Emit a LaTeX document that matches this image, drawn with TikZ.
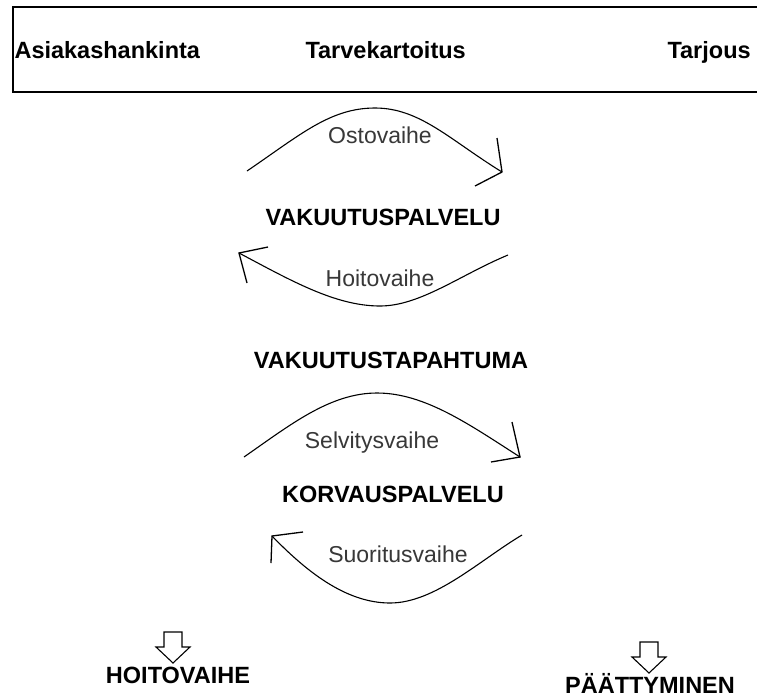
\documentclass[tikz,border=0pt]{standalone}
\usepackage{fontspec}
\setmainfont{Liberation Sans}
\begin{document}
\begin{tikzpicture}[x=1pt,y=-1pt,
  line width=1.1pt,
  titlelbl/.style={font=\fontsize{23.5}{27}\selectfont\bfseries, inner sep=0pt, anchor=base},
  toplbl/.style={titlelbl, anchor=base west},
  phaselbl/.style={font=\fontsize{23}{27}\selectfont, text=black!78, inner sep=0pt, anchor=base},
  curve/.style={draw=black, line width=1.1pt},
  tick/.style={draw=black, line width=1.3pt},
  downarrow/.pic={\draw[line width=1.1pt] (-9,0) -- (9,0) -- (9,15) -- (17,15) -- (0,31) -- (-17,15) -- (-9,15) -- cycle;}
]
\clip (0,0) rectangle (757,697);
\fill[white] (0,0) rectangle (757,697);

% top box
\draw[line width=1.2pt] (13,7) rectangle (790,92);
\node[toplbl] (asiakas) at (14,58) {Asiakashankinta};
\node[toplbl] (tarve) at (305,58) {Tarvekartoitus};
\node[toplbl] (tarjous) at (667,58) {Tarjous};

% main labels
\node[titlelbl] (vakpal) at (383,225) {VAKUUTUSPALVELU};
\node[titlelbl] (vaktap) at (391,368) {VAKUUTUSTAPAHTUMA};
\node[titlelbl] (korv) at (393,502) {KORVAUSPALVELU};
\node[titlelbl] (hoito) at (178,683) {HOITOVAIHE};
\node[titlelbl] (paat) at (650,693) {PÄÄTTYMINEN};

% phase labels
\node[phaselbl] (osto) at (380,143) {Ostovaihe};
\node[phaselbl] (hoitov) at (380,286) {Hoitovaihe};
\node[phaselbl] (selv) at (372,448) {Selvitysvaihe};
\node[phaselbl] (suor) at (398,562) {Suoritusvaihe};

% curve end points
\coordinate (o1) at (247,171);
\coordinate (o2) at (502,172);
\coordinate (h1) at (508,255);
\coordinate (h2) at (239,253);
\coordinate (s1) at (244,457);
\coordinate (s2) at (520,457);
\coordinate (u1) at (522,535);
\coordinate (u2) at (272,536);

% Ostovaihe
\draw[curve] (o1) .. controls (300,135) and (330,108) .. (375,108) .. controls (420,108) and (450,140) .. (o2);
\draw[tick] (497,138) -- (o2) -- (475,186);
% Hoitovaihe
\draw[curve] (h1) .. controls (460,275) and (420,306) .. (380,306) .. controls (335,306) and (290,280) .. (h2);
\draw[tick] (268,247) -- (h2) -- (247,283);
% Selvitysvaihe
\draw[curve] (s1) .. controls (290,425) and (330,393) .. (377,393) .. controls (425,393) and (470,425) .. (s2);
\draw[tick] (512,422) -- (s2) -- (491,462);
% Suoritusvaihe
\draw[curve] (u1) .. controls (480,560) and (435,603) .. (390,603) .. controls (345,603) and (305,570) .. (u2);
\draw[tick] (303,532) -- (u2) -- (271,563);

% block arrows
\pic at (173,632) {downarrow};
\pic at (649,642) {downarrow};
\end{tikzpicture}
\end{document}
